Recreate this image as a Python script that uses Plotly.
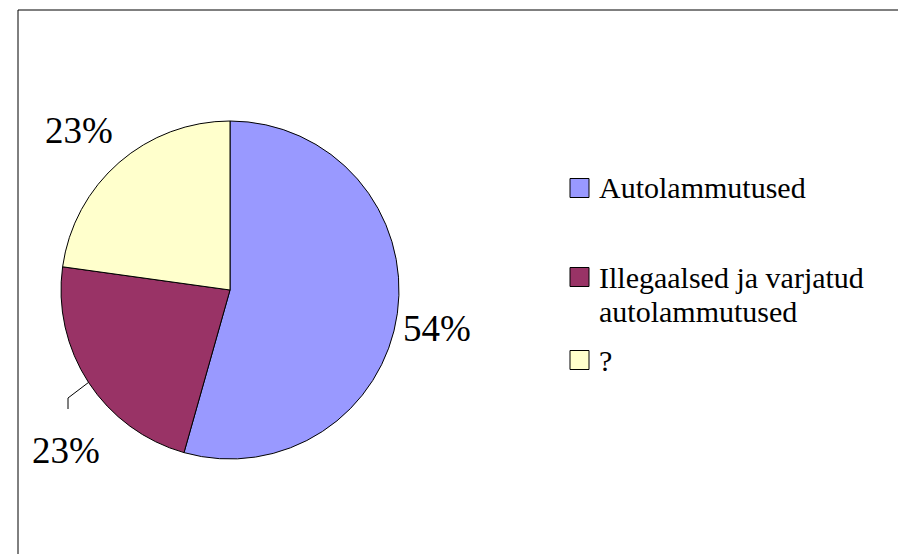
import math
import plotly.graph_objects as go

labels = ["Autolammutused", "Illegaalsed ja varjatud<br>autolammutused", "?"]
values = [31, 13, 13]
colors = ["#9999FF", "#993366", "#FFFFCC"]

W, H = 906, 554
OFF = 8  # browser body margin
SERIF = "Liberation Serif"


def px(x):
    return (x - OFF) / W


def py(y):
    return 1 - (y - OFF) / H


# pie geometry (reference pixels)
CX, CY, R = 230, 290, 169

fig = go.Figure()
fig.add_trace(go.Pie(
    labels=labels,
    values=values,
    sort=False,
    direction="clockwise",
    rotation=0,
    marker=dict(colors=colors, line=dict(color="black", width=1)),
    textinfo="none",
    domain=dict(x=[px(CX - R), px(CX + R)], y=[py(CY + R), py(CY - R)]),
    hoverinfo="label+percent",
    showlegend=False,
))

total = sum(values)
pcts = [f"{round(100 * v / total)}%" for v in values]

# outside label positions (reference pixels)
label_pos = [(437, 328), (66, 450), (79, 130)]
annotations = []
for txt, (lx, ly) in zip(pcts, label_pos):
    annotations.append(dict(
        x=px(lx), y=py(ly), xref="paper", yref="paper",
        text=txt, showarrow=False, xanchor="center", yanchor="middle",
        font=dict(size=37),
    ))

# leader line for the second slice label
cum = sum(values[:1]) + values[1] / 2
ang = 2 * math.pi * cum / total
sx, sy = CX + R * math.sin(ang), CY - R * math.cos(ang)
shapes = [
    dict(type="path", xref="paper", yref="paper",
         path=f"M{px(sx)},{py(sy)} L{px(68)},{py(398)} L{px(68)},{py(409)}",
         line=dict(color="black", width=1)),
]

# custom legend (reference pixels)
legend_rows = [188, 277, 360]
LINE_GAP = 34
for lab, col, ry in zip(labels, colors, legend_rows):
    shapes.append(dict(
        type="rect", xref="paper", yref="paper",
        x0=px(570), x1=px(589), y0=py(ry + 9.5), y1=py(ry - 9.5),
        line=dict(color="black", width=1), fillcolor=col,
    ))
    for i, line in enumerate(lab.split("<br>")):
        annotations.append(dict(
            x=px(597), y=py(ry + i * LINE_GAP), xref="paper", yref="paper",
            text=line, showarrow=False, xanchor="left", yanchor="middle",
            font=dict(size=30),
        ))

# chart frame
shapes.append(dict(type="rect", xref="paper", yref="paper",
                   x0=px(18), x1=1.05, y0=-0.05, y1=py(10),
                   line=dict(color="black", width=1), fillcolor="rgba(0,0,0,0)"))

fig.update_layout(
    width=W, height=H,
    margin=dict(l=0, r=0, t=0, b=0),
    paper_bgcolor="white",
    plot_bgcolor="white",
    font=dict(family=SERIF, color="black"),
    xaxis=dict(visible=False),
    yaxis=dict(visible=False),
    showlegend=False,
    annotations=annotations,
    shapes=shapes,
)

fig.write_html("out.html")
